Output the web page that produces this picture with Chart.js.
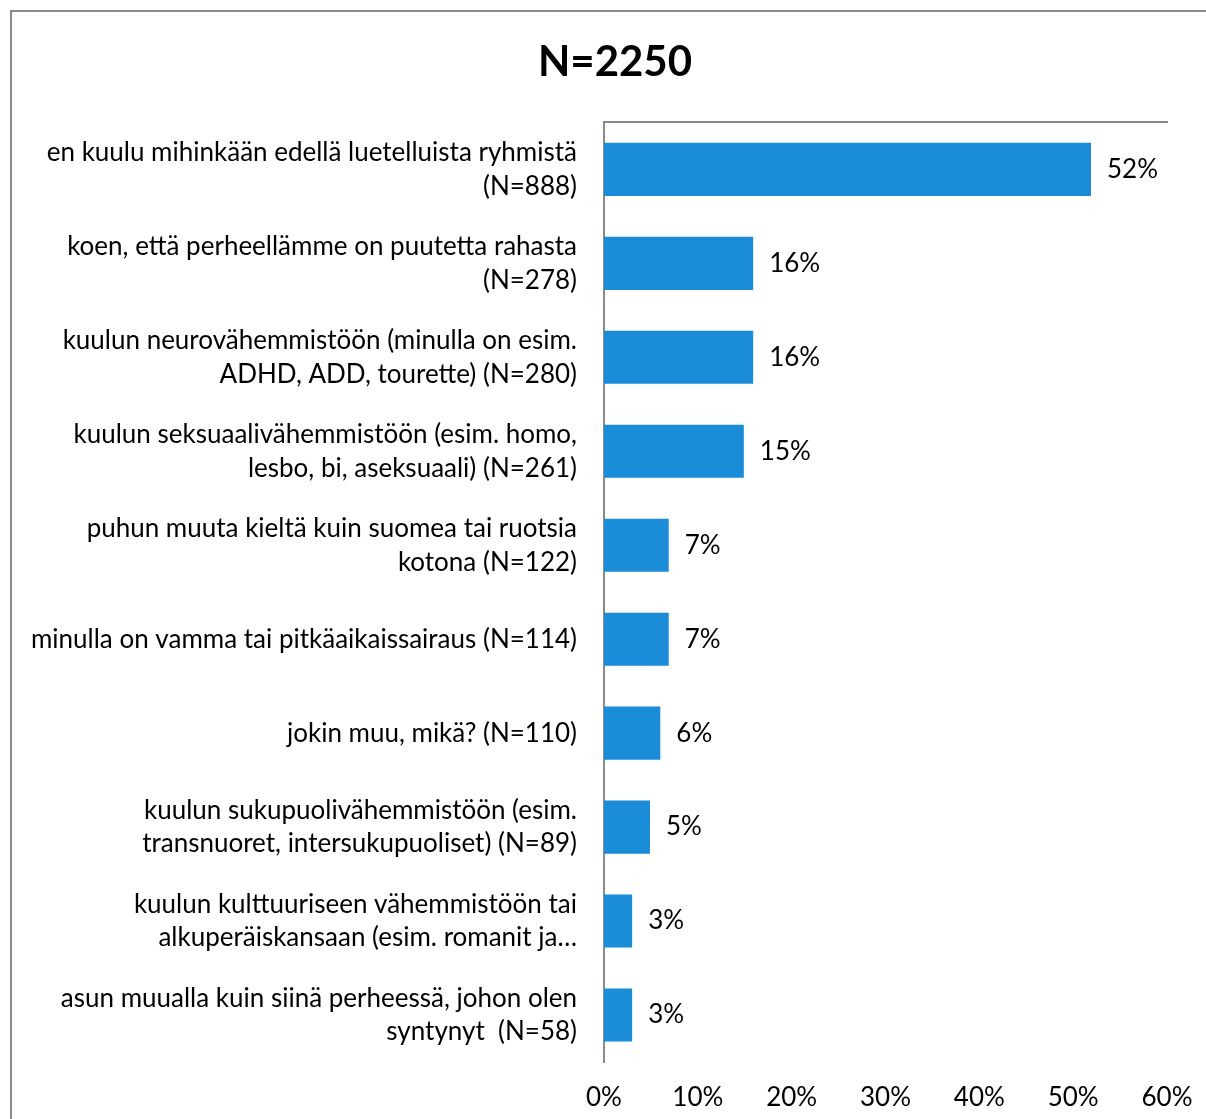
<!DOCTYPE html>
<html>
<head>
<meta charset="utf-8">
<script src="https://cdn.jsdelivr.net/npm/chart.js@4/dist/chart.umd.min.js"></script>
<style>
  html, body { margin: 0; padding: 0; background: #fff; overflow: hidden; width: 1206px; height: 1119px; }
  #frame { position: absolute; left: 10px; top: 10px; width: 1210px; height: 1120px;
           border-left: 2px solid #8a8a8a; border-top: 2px solid #8a8a8a; }
  #wrap { position: absolute; left: 0; top: 0; width: 1230px; height: 1119px; }
</style>
</head>
<body>
<div id="frame"></div>
<div id="wrap"><canvas id="c" width="1230" height="1119"></canvas></div>
<script>
const chartTitle = "N=2250";
const categories = [
  ["en kuulu mihinkään edellä luetelluista ryhmistä", "(N=888)"],
  ["koen, että perheellämme on puutetta rahasta", "(N=278)"],
  ["kuulun neurovähemmistöön (minulla on esim.", "ADHD, ADD, tourette) (N=280)"],
  ["kuulun seksuaalivähemmistöön (esim. homo,", "lesbo, bi, aseksuaali) (N=261)"],
  ["puhun muuta kieltä kuin suomea tai ruotsia", "kotona (N=122)"],
  ["minulla on vamma tai pitkäaikaissairaus (N=114)"],
  ["jokin muu, mikä? (N=110)"],
  ["kuulun sukupuolivähemmistöön (esim.", "transnuoret, intersukupuoliset) (N=89)"],
  ["kuulun kulttuuriseen vähemmistöön tai", "alkuperäiskansaan (esim. romanit ja…"],
  ["asun muualla kuin siinä perheessä, johon olen", "syntynyt  (N=58)"]
];
const values = [51.9, 15.9, 15.9, 14.9, 6.9, 6.9, 6.0, 4.9, 3.0, 3.0];
const valueLabels = ["52%", "16%", "16%", "15%", "7%", "7%", "6%", "5%", "3%", "3%"];
const xTicks = [0, 10, 20, 30, 40, 50, 60];

const FONT = "Lato, 'Open Sans', sans-serif";

const valueLabelPlugin = {
  id: 'valueLabels',
  afterDatasetsDraw(chart) {
    const ctx = chart.ctx;
    const meta = chart.getDatasetMeta(0);
    ctx.save();
    ctx.font = "26px " + FONT;
    ctx.fillStyle = "#000";
    ctx.textAlign = "left";
    ctx.textBaseline = "middle";
    meta.data.forEach((bar, i) => {
      ctx.fillText(valueLabels[i], bar.x + 16, bar.y);
    });
    ctx.restore();
  }
};

new Chart(document.getElementById('c'), {
  type: 'bar',
  data: {
    labels: categories,
    datasets: [{
      data: values,
      backgroundColor: '#1b8dd8',
      borderWidth: 0,
      categoryPercentage: 1,
      barPercentage: 0.565
    }]
  },
  options: {
    indexAxis: 'y',
    responsive: false,
    animation: false,
    devicePixelRatio: 1,
    layout: { padding: 0 },
    plugins: {
      legend: { display: false },
      tooltip: { enabled: false },
      title: {
        display: true,
        text: chartTitle,
        color: '#000',
        font: { family: FONT, size: 42, weight: 'bold' },
        padding: { top: 37, bottom: 35 }
      }
    },
    scales: {
      x: {
        position: 'bottom',
        min: 0, max: 60,
        afterBuildTicks(scale) { scale.ticks = xTicks.map(v => ({ value: v })); },
        ticks: {
          callback: v => v + '%',
          color: '#000',
          font: { family: FONT, size: 26 },
          padding: 20
        },
        grid: { display: false, drawTicks: false },
        border: { display: false },
        afterFit(scale) { scale.height = 57; scale.paddingRight = 0; scale.paddingLeft = 0; }
      },
      x2: {
        position: 'top',
        min: 0, max: 60,
        ticks: { display: false },
        grid: { display: false, drawTicks: false },
        border: { display: true, color: '#8a8a8a', width: 2 },
        afterFit(scale) { scale.height = 0; scale.paddingRight = 0; scale.paddingLeft = 0; }
      },
      y: {
        afterFit(scale) { scale.width = 604; scale.paddingTop = 0; scale.paddingBottom = 0; },
        ticks: {
          color: '#000',
          font: { family: FONT, size: 26, lineHeight: 1.3 },
          padding: 27
        },
        grid: { display: false, drawTicks: false },
        border: { display: true, color: '#8a8a8a', width: 2 }
      },
      yR: {
        type: 'linear',
        position: 'right',
        display: true,
        ticks: { display: false },
        grid: { display: false, drawTicks: false },
        border: { display: false },
        afterFit(scale) { scale.width = 63; scale.paddingTop = 0; scale.paddingBottom = 0; }
      }
    }
  },
  plugins: [valueLabelPlugin]
});
</script>
</body>
</html>
